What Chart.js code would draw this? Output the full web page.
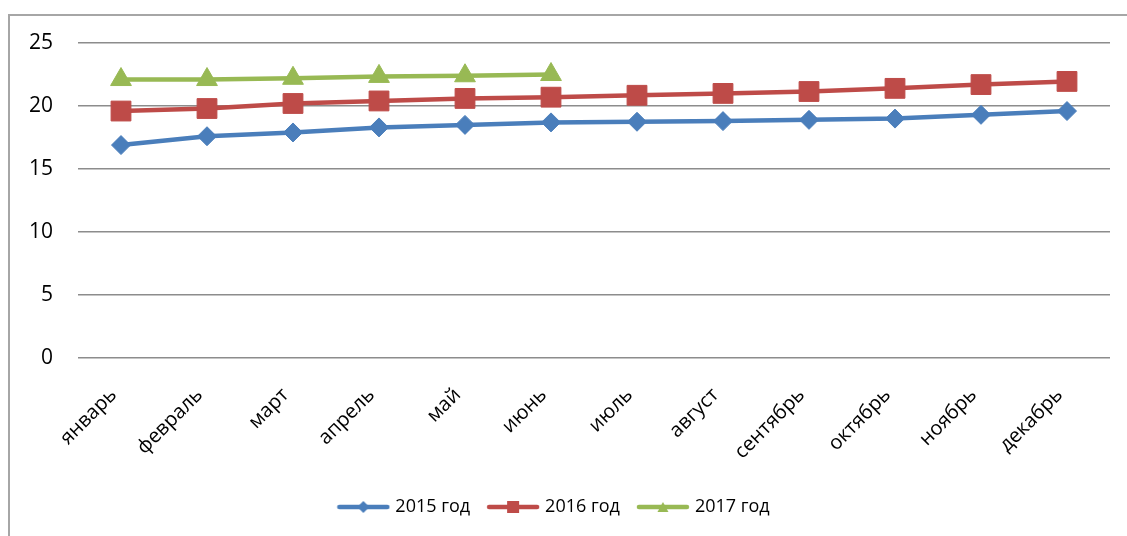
<!DOCTYPE html>
<html>
<head>
<meta charset="utf-8">
<script src="https://cdn.jsdelivr.net/npm/chart.js@4.4.1/dist/chart.umd.min.js"></script>
<style>
  html, body { margin: 0; padding: 0; background: #fff; }
  #wrap { position: relative; width: 1127px; height: 536px; overflow: hidden; }
  #frame {
    position: absolute; left: 8px; top: 14px; width: 1300px; height: 700px;
    border-left: 2px solid #a6a6a6; border-top: 2px solid #a6a6a6;
  }
  #chart { position: absolute; left: 0; top: 0; }
</style>
</head>
<body>
<div id="wrap">
  <div id="frame"></div>
  <canvas id="chart" width="1127" height="536"></canvas>
</div>
<script>
'use strict';

// ── Data ────────────────────────────────────────────
const MONTHS = ['январь', 'февраль', 'март', 'апрель', 'май', 'июнь',
                'июль', 'август', 'сентябрь', 'октябрь', 'ноябрь', 'декабрь'];

const VALUES_2015 = [16.9, 17.6, 17.9, 18.3, 18.5, 18.7, 18.75, 18.8, 18.9, 19.0, 19.3, 19.6];
const VALUES_2016 = [19.6, 19.8, 20.2, 20.4, 20.6, 20.7, 20.85, 21.0, 21.15, 21.4, 21.7, 21.95];
const VALUES_2017 = [22.1, 22.1, 22.2, 22.35, 22.4, 22.5];

const Y_MIN  = 0;
const Y_MAX  = 25;
const Y_STEP = 5;

// ── Styles ──────────────────────────────────────────
const FONT = '"Open Sans", "Noto Sans", sans-serif';
const BLUE  = '#4a7ebb';
const RED   = '#be4b48';
const GREEN = '#98b954';

// small legend icon: a line with the series marker in the middle
function legendIcon(color, shape) {
  const c = document.createElement('canvas');
  c.width = 54; c.height = 16;
  const g = c.getContext('2d');
  g.strokeStyle = color;
  g.lineWidth = 4.5;
  g.lineCap = 'round';
  g.beginPath(); g.moveTo(3, 8); g.lineTo(51, 8); g.stroke();
  g.fillStyle = color;
  g.beginPath();
  if (shape === 'diamond') {
    g.moveTo(27, 2); g.lineTo(33, 8); g.lineTo(27, 14); g.lineTo(21, 8);
  } else if (shape === 'square') {
    g.rect(21, 2, 12, 12);
  } else {
    g.moveTo(27, 3); g.lineTo(32.5, 13); g.lineTo(21.5, 13);
  }
  g.closePath(); g.fill();
  return c;
}

const SERIES = [
  { label: '2015 год', data: VALUES_2015, color: BLUE,  style: 'rectRot',  radius: 9.5, icon: 'diamond' },
  { label: '2016 год', data: VALUES_2016, color: RED,   style: 'rect',     radius: 14,  icon: 'square' },
  { label: '2017 год', data: VALUES_2017, color: GREEN, style: 'triangle', radius: 12,  icon: 'triangle' },
];

const datasets = SERIES.map(s => ({
  label:            s.label,
  data:             s.data,
  borderColor:      s.color,
  backgroundColor:  s.color,
  borderWidth:      4.5,
  tension:          0,
  pointStyle:       s.style,
  pointRadius:      s.radius,
  pointBorderWidth: 1,
  pointBorderColor: s.color,
  pointBackgroundColor: s.color,
  _icon:            legendIcon(s.color, s.icon),
}));

new Chart(document.getElementById('chart'), {
  type: 'line',
  data: { labels: MONTHS, datasets },
  options: {
    responsive: false,
    animation:  false,
    layout: { padding: { left: 0, right: 17, top: 43, bottom: 10 } },
    plugins: {
      tooltip: { enabled: false },
      legend: {
        position: 'bottom',
        labels: {
          usePointStyle:   true,
          pointStyleWidth: 46,
          padding:         20,
          color:           '#000',
          font:            { family: FONT, size: 18 },
          generateLabels: chart => chart.data.datasets.map((ds, i) => ({
            text:         ds.label,
            pointStyle:   ds._icon,
            fillStyle:    ds.borderColor,
            strokeStyle:  ds.borderColor,
            lineWidth:    0,
            hidden:       false,
            datasetIndex: i,
          })),
        },
      },
    },
    scales: {
      x: {
        offset: true,
        grid:   { display: false, drawTicks: false },
        border: { display: false },
        ticks: {
          minRotation: 45,
          maxRotation: 45,
          padding:     18,
          color:       '#000',
          font:        { family: FONT, size: 20 },
          // two trailing spaces pull the rotated label down-left, as in the original
          callback: function (v) { return this.getLabelForValue(v) + '  '; },
        },
        afterFit: scale => { scale.height = 120; },
      },
      y: {
        min: Y_MIN,
        max: Y_MAX,
        grid:   { color: '#8c8c8c', lineWidth: 1.5, drawTicks: false },
        border: { display: false },
        ticks: {
          stepSize: Y_STEP,
          padding:  25,
          color:    '#000',
          font:     { family: FONT, size: 21 },
        },
        afterFit: scale => { scale.width = 78; },
      },
    },
  },
});
</script>
</body>
</html>
